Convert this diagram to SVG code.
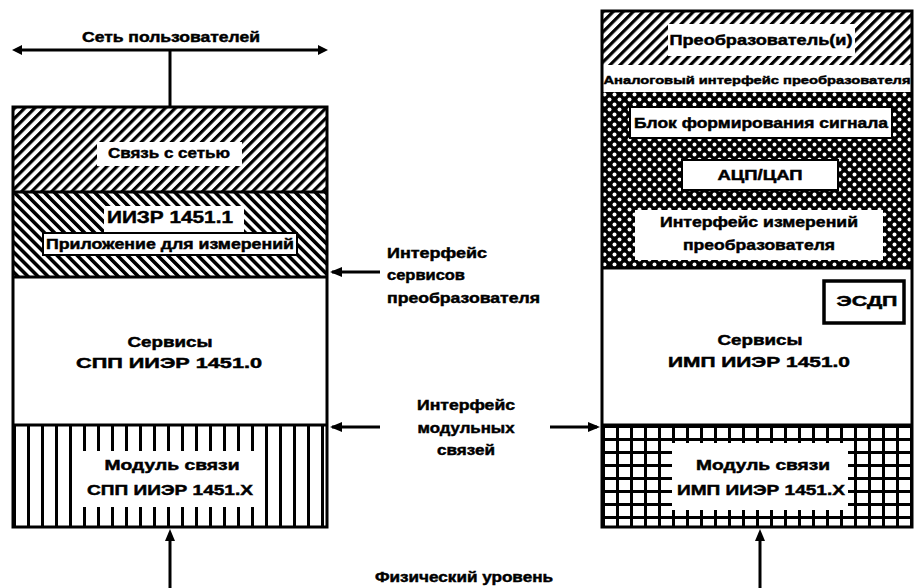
<svg xmlns="http://www.w3.org/2000/svg" width="915" height="588" viewBox="0 0 915 588">
<style>
text{font-family:"Liberation Sans",Arial,sans-serif;font-weight:bold;fill:#000;stroke:#000;stroke-width:0.45;text-anchor:middle}
.s{font-size:14px}
.sm{font-size:11px}
.lg{font-size:17px}
.l{text-anchor:start}
.ln{stroke:#000;stroke-width:3;fill:none}
.wb{fill:#fff;stroke:none}
.bx{fill:#fff;stroke:#000;stroke-width:2}
</style>
<defs>
<pattern id="fwd" patternUnits="userSpaceOnUse" width="7.1" height="7.1" patternTransform="rotate(45)"><rect x="0" y="0" width="7.1" height="7.1" fill="#fff"/><rect x="0" y="0" width="3.2" height="7.1" fill="#000"/></pattern>
<pattern id="bwd" patternUnits="userSpaceOnUse" width="7.1" height="7.1" patternTransform="rotate(-45)"><rect x="0" y="0" width="7.1" height="7.1" fill="#fff"/><rect x="0" y="0" width="3.6" height="7.1" fill="#000"/></pattern>
<pattern id="vert" patternUnits="userSpaceOnUse" x="13" y="0" width="14" height="14"><rect width="14" height="14" fill="#fff"/><rect x="0" y="0" width="3" height="14" fill="#000"/></pattern>
<pattern id="grid" patternUnits="userSpaceOnUse" x="602" y="425" width="14" height="13"><rect width="14" height="13" fill="#fff"/><rect x="0" y="0" width="3" height="13" fill="#000"/><rect x="0" y="0" width="14" height="3" fill="#000"/></pattern>
<pattern id="dots" patternUnits="userSpaceOnUse" x="602" y="92" width="10" height="10"><rect width="10" height="10" fill="#000"/><circle cx="2.5" cy="2.5" r="2" fill="#fff"/><circle cx="7.5" cy="7.5" r="2" fill="#fff"/></pattern>
</defs>

<g id="connectors">
<line class="ln" x1="18" y1="50" x2="322" y2="50"/>
<polygon points="12,50 22,45 22,55"/>
<polygon points="328,50 318,45 318,55"/>
<line class="ln" x1="170" y1="50" x2="170" y2="107"/>
<line class="ln" x1="380" y1="272" x2="332" y2="272"/>
<polygon points="330,272 342,267 342,277"/>
<line class="ln" x1="380" y1="427" x2="332" y2="427"/>
<polygon points="330,427 342,422 342,432"/>
<line class="ln" x1="550" y1="427" x2="597" y2="427"/>
<polygon points="600,427 588,422 588,432"/>
<line class="ln" x1="170" y1="588" x2="170" y2="536"/>
<polygon points="170,529 165,541 175,541"/>
<line class="ln" x1="760" y1="588" x2="760" y2="536"/>
<polygon points="760,529 755,541 765,541"/>
</g>

<g id="label-network">
<text class="s" x="171" y="42" textLength="178" lengthAdjust="spacingAndGlyphs">Сеть пользователей</text>
</g>

<g id="left-stack">
<rect x="13" y="107" width="314" height="85" fill="url(#fwd)"/>
<rect x="13" y="192" width="314" height="85" fill="url(#bwd)"/>
<rect x="13" y="277" width="314" height="148" fill="#fff"/>
<rect x="13" y="425" width="314" height="102" fill="url(#vert)"/>
<rect x="97" y="142" width="145" height="24" class="wb"/>
<text class="s" x="169" y="158" textLength="122" lengthAdjust="spacingAndGlyphs">Связь с сетью</text>
<rect x="104" y="206" width="140" height="27" class="wb"/>
<text class="lg" x="170" y="223" textLength="126" lengthAdjust="spacingAndGlyphs">ИИЗР 1451.1</text>
<rect x="43" y="233" width="254" height="22" class="bx"/>
<text class="s" x="170" y="249" textLength="248" lengthAdjust="spacingAndGlyphs">Приложение для измерений</text>
<text class="s" x="170" y="347" textLength="85" lengthAdjust="spacingAndGlyphs">Сервисы</text>
<text class="s" x="169" y="368" textLength="186" lengthAdjust="spacingAndGlyphs">СПП ИИЭР 1451.0</text>
<rect x="80" y="451" width="180" height="56" class="wb"/>
<text class="s" x="172" y="470" textLength="135" lengthAdjust="spacingAndGlyphs">Модуль связи</text>
<text class="s" x="170" y="495" textLength="166" lengthAdjust="spacingAndGlyphs">СПП ИИЭР 1451.X</text>
<line class="ln" x1="13" y1="192" x2="327" y2="192"/>
<line class="ln" x1="13" y1="277" x2="327" y2="277"/>
<line class="ln" x1="13" y1="425" x2="327" y2="425"/>
<rect x="13" y="107" width="314" height="420" class="ln"/>
</g>

<g id="right-stack">
<rect x="602" y="11" width="310" height="54" fill="url(#fwd)"/>
<rect x="602" y="65" width="310" height="27" fill="#fff"/>
<rect x="602" y="92" width="310" height="176" fill="url(#dots)"/>
<rect x="602" y="268" width="310" height="157" fill="#fff"/>
<rect x="602" y="425" width="310" height="102" fill="url(#grid)"/>
<rect x="668" y="24" width="187" height="32" class="wb"/>
<text class="s" x="761" y="45" textLength="183" lengthAdjust="spacingAndGlyphs">Преобразователь(и)</text>
<text class="sm" x="757" y="84" textLength="307" lengthAdjust="spacingAndGlyphs">Аналоговый интерфейс преобразователя</text>
<rect x="630" y="107" width="262" height="31" class="bx"/>
<text class="s" x="761" y="128" textLength="254" lengthAdjust="spacingAndGlyphs">Блок формирования сигнала</text>
<rect x="682" y="160" width="156" height="30" class="bx"/>
<text class="s" x="760" y="180" textLength="85" lengthAdjust="spacingAndGlyphs">АЦП/ЦАП</text>
<rect x="635" y="210" width="248" height="50" class="wb"/>
<text class="s" x="759" y="227" textLength="198" lengthAdjust="spacingAndGlyphs">Интерфейс измерений</text>
<text class="s" x="759" y="250" textLength="152" lengthAdjust="spacingAndGlyphs">преобразователя</text>
<rect x="824" y="281" width="80" height="42" fill="#fff" stroke="#000" stroke-width="3.5"/>
<text class="s" x="867" y="306" textLength="61" lengthAdjust="spacingAndGlyphs">ЭСДП</text>
<text class="s" x="760" y="345" textLength="85" lengthAdjust="spacingAndGlyphs">Сервисы</text>
<text class="s" x="759" y="367" textLength="182" lengthAdjust="spacingAndGlyphs">ИМП ИИЭР 1451.0</text>
<rect x="672" y="443" width="176" height="67" class="wb"/>
<text class="s" x="763" y="470" textLength="134" lengthAdjust="spacingAndGlyphs">Модуль связи</text>
<text class="s" x="761" y="495" textLength="168" lengthAdjust="spacingAndGlyphs">ИМП ИИЭР 1451.X</text>
<line class="ln" x1="602" y1="268" x2="912" y2="268"/>
<line class="ln" x1="602" y1="425" x2="912" y2="425"/>
<rect x="602" y="11" width="310" height="516" class="ln"/>
</g>

<g id="label-sensor-services">
<text class="s l" x="387" y="258" textLength="100" lengthAdjust="spacingAndGlyphs">Интерфейс</text>
<text class="s l" x="387" y="280" textLength="78" lengthAdjust="spacingAndGlyphs">сервисов</text>
<text class="s l" x="387" y="303" textLength="153" lengthAdjust="spacingAndGlyphs">преобразователя</text>
</g>
<g id="label-module-interface">
<text class="s" x="466" y="410" textLength="98" lengthAdjust="spacingAndGlyphs">Интерфейс</text>
<text class="s" x="466" y="433" textLength="97" lengthAdjust="spacingAndGlyphs">модульных</text>
<text class="s" x="466" y="455" textLength="58" lengthAdjust="spacingAndGlyphs">связей</text>
</g>
<g id="label-physical">
<text class="s" x="464" y="582" textLength="178" lengthAdjust="spacingAndGlyphs">Физический уровень</text>
</g>
</svg>
